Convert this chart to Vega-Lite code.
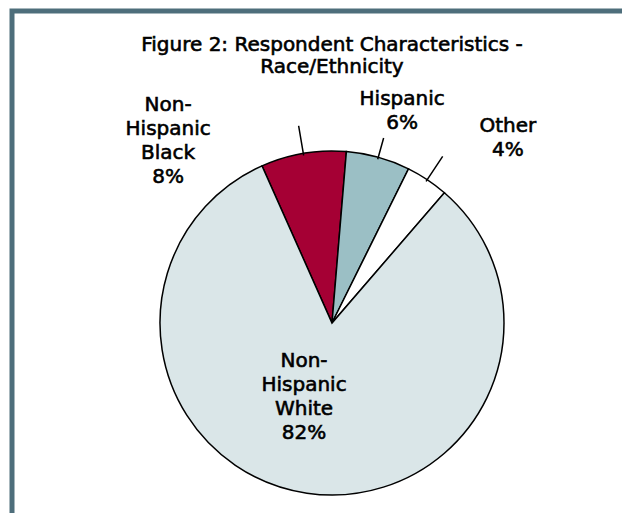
{
  "$schema": "https://vega.github.io/schema/vega-lite/v6.json",
  "width": 640,
  "height": 624,
  "autosize": {"type": "none"},
  "padding": {"left": 12, "top": 11, "right": 0, "bottom": 0},
  "background": "white",
  "view": {"stroke": "#4E6E7B", "strokeWidth": 5, "fill": "white"},
  "config": {"style": {"group-title": {"stroke": "#000000", "strokeWidth": 0.6}}},
  "title": {
    "text": ["Figure 2: Respondent Characteristics -", "Race/Ethnicity"],
    "anchor": "middle",
    "frame": "group",
    "font": "DejaVu Sans",
    "fontSize": 20,
    "fontWeight": "normal",
    "color": "#000000",
    "lineHeight": 22,
    "offset": -66
  },
  "data": {
    "values": [
      {"group": "Non-Hispanic Black", "label": "Non-\nHispanic\nBlack\n8%", "pct": 8, "rank": 1},
      {"group": "Hispanic", "label": "Hispanic\n6%", "pct": 6, "rank": 2},
      {"group": "Other", "label": "Other\n4%", "pct": 4, "rank": 3},
      {"group": "Non-Hispanic White", "label": "Non-\nHispanic\nWhite\n82%", "pct": 82, "rank": 4}
    ]
  },
  "encoding": {
    "theta": {"field": "pct", "type": "quantitative", "stack": true, "scale": {"range": [-0.4189, 5.8643]}},
    "order": {"field": "rank", "type": "quantitative"}
  },
  "layer": [
    {
      "mark": {"type": "arc", "radius": 172, "stroke": "#000000", "strokeWidth": 1.5},
      "encoding": {
        "color": {
          "field": "group",
          "type": "nominal",
          "scale": {
            "domain": ["Non-Hispanic Black", "Hispanic", "Other", "Non-Hispanic White"],
            "range": ["#A50034", "#9BBFC5", "#FFFFFF", "#DAE6E8"]
          },
          "legend": null
        }
      }
    },
    {
      "mark": {"type": "arc", "radius": 200, "radius2": 170, "padAngle": 3, "stroke": "#000000", "strokeWidth": 1.5, "fillOpacity": 0},
      "encoding": {
        "strokeOpacity": {"condition": {"test": "datum.group === 'Non-Hispanic Black' || datum.group === 'Other'", "value": 1}, "value": 0}
      }
    },
    {
      "mark": {"type": "arc", "radius": 192, "radius2": 170, "padAngle": 3, "stroke": "#000000", "strokeWidth": 1.5, "fillOpacity": 0},
      "encoding": {
        "strokeOpacity": {"condition": {"test": "datum.group === 'Hispanic'", "value": 1}, "value": 0}
      }
    },
    {
      "mark": {"type": "text", "radius": 215, "dx": -128, "dy": -6, "font": "DejaVu Sans", "fontSize": 20, "stroke": "#000000", "strokeWidth": 0.6, "lineHeight": 24, "lineBreak": "\n", "align": "center", "baseline": "middle", "color": "#000000"},
      "encoding": {"text": {"condition": {"test": "datum.group === 'Non-Hispanic Black'", "field": "label"}, "value": ""}}
    },
    {
      "mark": {"type": "text", "radius": 220, "dx": 11, "dy": -12, "font": "DejaVu Sans", "fontSize": 20, "stroke": "#000000", "strokeWidth": 0.6, "lineHeight": 24, "lineBreak": "\n", "align": "center", "baseline": "middle", "color": "#000000"},
      "encoding": {"text": {"condition": {"test": "datum.group === 'Hispanic'", "field": "label"}, "value": ""}}
    },
    {
      "mark": {"type": "text", "radius": 240, "dx": 43, "dy": 3, "font": "DejaVu Sans", "fontSize": 20, "stroke": "#000000", "strokeWidth": 0.6, "lineHeight": 24, "lineBreak": "\n", "align": "center", "baseline": "middle", "color": "#000000"},
      "encoding": {"text": {"condition": {"test": "datum.group === 'Other'", "field": "label"}, "value": ""}}
    },
    {
      "mark": {"type": "text", "radius": 75, "dx": -17, "dy": -36, "font": "DejaVu Sans", "fontSize": 20, "stroke": "#000000", "strokeWidth": 0.6, "lineHeight": 24, "lineBreak": "\n", "align": "center", "baseline": "middle", "color": "#000000"},
      "encoding": {"text": {"condition": {"test": "datum.group === 'Non-Hispanic White'", "field": "label"}, "value": ""}}
    }
  ]
}
